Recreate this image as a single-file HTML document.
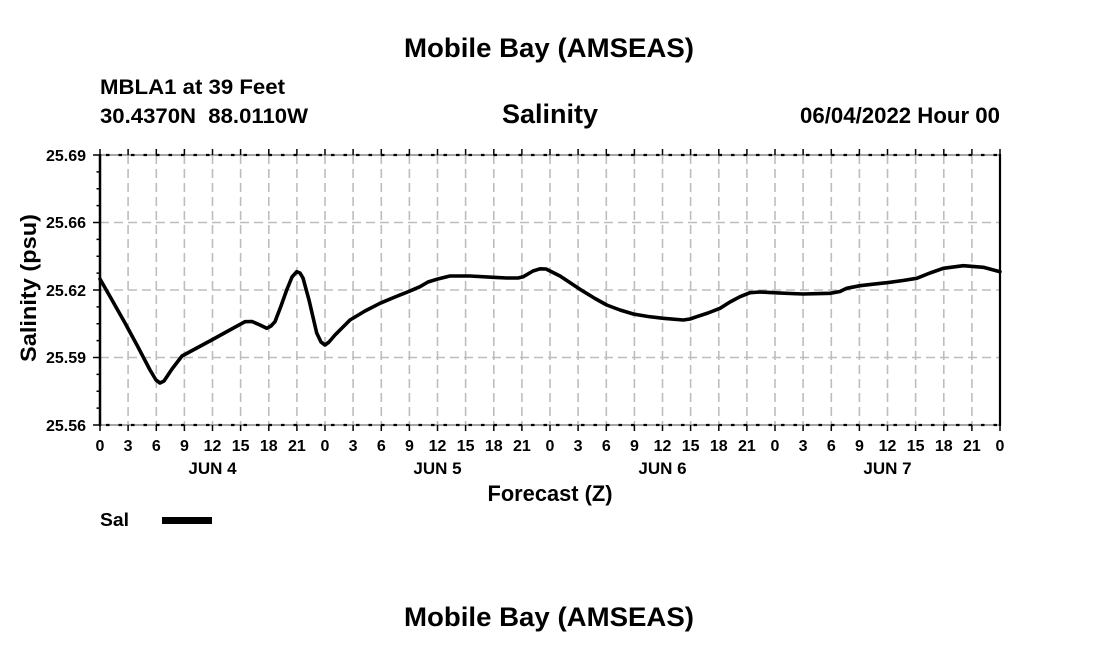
<!DOCTYPE html>
<html><head><meta charset="utf-8"><style>
html,body{margin:0;padding:0;background:#fff;}
svg{display:block;}
text{font-family:"Liberation Sans",Arial,sans-serif;font-weight:bold;fill:#000;}
</style></head><body>
<svg width="1100" height="650" viewBox="0 0 1100 650" xmlns="http://www.w3.org/2000/svg">
<rect width="1100" height="650" fill="#fff"/>
<!-- Titles -->
<text x="549" y="57" font-size="27" text-anchor="middle" textLength="290" lengthAdjust="spacingAndGlyphs">Mobile Bay (AMSEAS)</text>
<text x="100" y="94" font-size="21" textLength="185" lengthAdjust="spacingAndGlyphs">MBLA1 at 39 Feet</text>
<text x="100" y="123" font-size="21" textLength="208" lengthAdjust="spacingAndGlyphs">30.4370N&#160; 88.0110W</text>
<text x="550" y="123" font-size="27" text-anchor="middle" textLength="96" lengthAdjust="spacingAndGlyphs">Salinity</text>
<text x="1000" y="123" font-size="22" text-anchor="end" textLength="200" lengthAdjust="spacingAndGlyphs">06/04/2022 Hour 00</text>

<!-- Grid: vertical dashed -->
<g stroke="#bdbdbd" stroke-width="1.6" stroke-dasharray="9 5" fill="none">
<path d="M128.1 155V425M156.3 155V425M184.4 155V425M212.5 155V425M240.6 155V425M268.8 155V425M296.9 155V425M325 155V425M353.1 155V425M381.3 155V425M409.4 155V425M437.5 155V425M465.6 155V425M493.8 155V425M521.9 155V425M550 155V425M578.1 155V425M606.3 155V425M634.4 155V425M662.5 155V425M690.6 155V425M718.8 155V425M746.9 155V425M775 155V425M803.1 155V425M831.3 155V425M859.4 155V425M887.5 155V425M915.6 155V425M943.8 155V425M971.9 155V425"/>
<path d="M100 222.5H1000M100 290H1000M100 357.5H1000"/>
</g>

<!-- Top & bottom axes: gray line with black dots -->
<g fill="none">
<path d="M100 155H1000M100 425H1000" stroke="#888" stroke-width="1.5"/>
<path d="M106 155H1000M106 425H1000" stroke="#000" stroke-width="2.2" stroke-dasharray="3.5 9"/>
</g>
<!-- x ticks top & bottom -->
<g stroke="#000" stroke-width="1.5">
<path d="M100 149V155M128.1 149V155M156.3 149V155M184.4 149V155M212.5 149V155M240.6 149V155M268.8 149V155M296.9 149V155M325 149V155M353.1 149V155M381.3 149V155M409.4 149V155M437.5 149V155M465.6 149V155M493.8 149V155M521.9 149V155M550 149V155M578.1 149V155M606.3 149V155M634.4 149V155M662.5 149V155M690.6 149V155M718.8 149V155M746.9 149V155M775 149V155M803.1 149V155M831.3 149V155M859.4 149V155M887.5 149V155M915.6 149V155M943.8 149V155M971.9 149V155M1000 149V155"/>
<path d="M100 425V431M128.1 425V431M156.3 425V431M184.4 425V431M212.5 425V431M240.6 425V431M268.8 425V431M296.9 425V431M325 425V431M353.1 425V431M381.3 425V431M409.4 425V431M437.5 425V431M465.6 425V431M493.8 425V431M521.9 425V431M550 425V431M578.1 425V431M606.3 425V431M634.4 425V431M662.5 425V431M690.6 425V431M718.8 425V431M746.9 425V431M775 425V431M803.1 425V431M831.3 425V431M859.4 425V431M887.5 425V431M915.6 425V431M943.8 425V431M971.9 425V431M1000 425V431"/>
</g>
<!-- Left & right axes -->
<path d="M100 154V426" stroke="#000" stroke-width="2.5"/>
<path d="M1000 154V426" stroke="#000" stroke-width="2.2"/>
<!-- left ticks -->
<g stroke="#000" stroke-width="1.5">
<path d="M93 155H100M93 222.5H100M93 290H100M93 357.5H100M93 425H100"/>
<path d="M96.5 171.9H100M96.5 188.8H100M96.5 205.6H100M96.5 239.4H100M96.5 256.3H100M96.5 273.1H100M96.5 306.9H100M96.5 323.8H100M96.5 340.6H100M96.5 374.4H100M96.5 391.3H100M96.5 408.1H100"/>
</g>
<!-- y tick labels -->
<g font-size="16" text-anchor="end">
<text x="86" y="161">25.69</text>
<text x="86" y="228">25.66</text>
<text x="86" y="296">25.62</text>
<text x="86" y="363">25.59</text>
<text x="86" y="431">25.56</text>
</g>
<text transform="translate(36,288) rotate(-90)" font-size="22" text-anchor="middle" textLength="148" lengthAdjust="spacingAndGlyphs">Salinity (psu)</text>

<!-- x tick labels -->
<g font-size="16" text-anchor="middle">
<text x="100" y="451">0</text><text x="128.1" y="451">3</text><text x="156.3" y="451">6</text><text x="184.4" y="451">9</text><text x="212.5" y="451">12</text><text x="240.6" y="451">15</text><text x="268.8" y="451">18</text><text x="296.9" y="451">21</text>
<text x="325" y="451">0</text><text x="353.1" y="451">3</text><text x="381.3" y="451">6</text><text x="409.4" y="451">9</text><text x="437.5" y="451">12</text><text x="465.6" y="451">15</text><text x="493.8" y="451">18</text><text x="521.9" y="451">21</text>
<text x="550" y="451">0</text><text x="578.1" y="451">3</text><text x="606.3" y="451">6</text><text x="634.4" y="451">9</text><text x="662.5" y="451">12</text><text x="690.6" y="451">15</text><text x="718.8" y="451">18</text><text x="746.9" y="451">21</text>
<text x="775" y="451">0</text><text x="803.1" y="451">3</text><text x="831.3" y="451">6</text><text x="859.4" y="451">9</text><text x="887.5" y="451">12</text><text x="915.6" y="451">15</text><text x="943.8" y="451">18</text><text x="971.9" y="451">21</text><text x="1000" y="451">0</text>
</g>
<g font-size="17" text-anchor="middle">
<text x="212.5" y="474">JUN 4</text>
<text x="437.5" y="474">JUN 5</text>
<text x="662.5" y="474">JUN 6</text>
<text x="887.5" y="474">JUN 7</text>
</g>
<text x="550" y="501" font-size="22" text-anchor="middle" textLength="125" lengthAdjust="spacingAndGlyphs">Forecast (Z)</text>

<!-- Data -->
<polyline fill="none" stroke="#000" stroke-width="3.6" stroke-linejoin="round" stroke-linecap="round" points="100,279 112,300 125,323 138,347 150,370 156,380 160,383 164,381 172,369 182,356 195,349 211.7,340 228,331 245,321.7 252,321.5 260,325 266.7,328.3 271,326 275,321.7 281,306 286.7,290 292,277 296.7,271.7 300,273 303,278 309,300 316.7,333 321,342 325,345 329,342 335,335 350,320 365,311 380,303.3 395,297 408.3,291.7 420,286.7 428,282 436.7,279.3 450,276 470,276 493.3,277.3 506.7,278 518,278 523.3,276.7 533,271 540,268.8 546,269 552,272 560,276 580,289.3 595,298.5 606.7,305 620,310 633.3,314 648,316.5 663.3,318.3 683.3,320 690,319 696.7,316.7 708,313 720,308.3 730,302 740,296.7 750,292.7 760,292 773.3,292.7 790,293.5 803.3,294 820,293.6 830,293.3 840,291.5 846.7,288.3 860,285.7 873,284.2 886.7,282.7 903,280.5 916.7,278.3 930,273 943.3,268.3 963.3,265.7 983.3,267.3 1000,271.7"/>

<!-- Legend -->
<text x="100" y="526" font-size="18" textLength="29" lengthAdjust="spacingAndGlyphs">Sal</text>
<rect x="162" y="517" width="50" height="7" fill="#000"/>

<!-- Bottom title -->
<text x="549" y="626" font-size="27" text-anchor="middle" textLength="290" lengthAdjust="spacingAndGlyphs">Mobile Bay (AMSEAS)</text>
</svg>
</body></html>
